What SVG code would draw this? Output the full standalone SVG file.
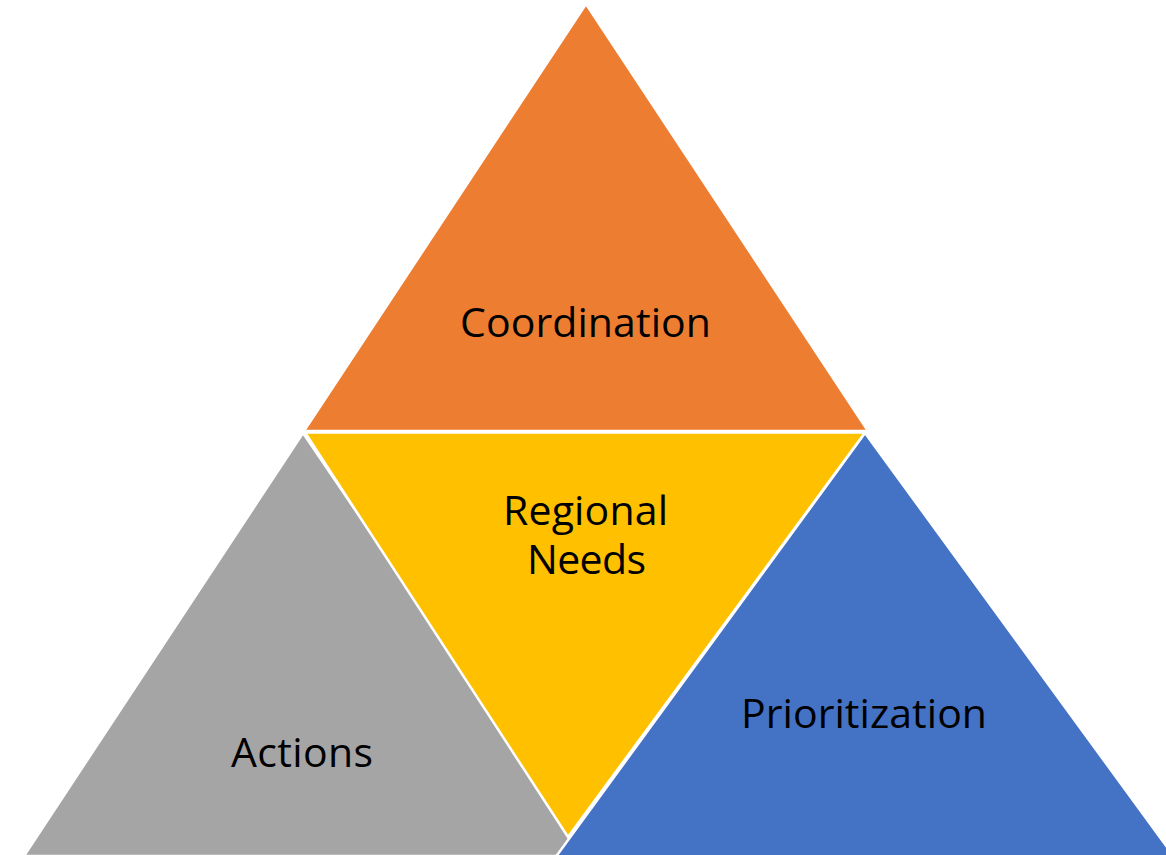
<svg xmlns="http://www.w3.org/2000/svg" width="1166" height="855" viewBox="0 0 1166 855">
<style>
.shape{stroke:#FFFFFF;stroke-width:2.5;stroke-linejoin:miter}
.lbl{font-family:"Open Sans","Liberation Sans",sans-serif;font-size:41px;fill:#000000;text-anchor:middle}
</style>
<rect x="0" y="0" width="1166" height="855" fill="#FFFFFF"/>
<g id="actions">
<polygon class="shape" points="303,433 24,856 590,856" fill="#A5A5A5"/>
<text class="lbl" x="302" y="767" textLength="142">Actions</text>
</g>
<g id="prioritization">
<polygon class="shape" points="865,433 555,858 1175,858" fill="#4472C4"/>
<text class="lbl" x="864" y="728" textLength="246">Prioritization</text>
</g>
<g id="coordination">
<polygon class="shape" points="586,4 304,431 868,431" fill="#ED7D31"/>
<text class="lbl" x="585.5" y="337" textLength="251">Coordination</text>
</g>
<g id="regional-needs">
<polygon class="shape" points="305,432.5 865,432.5 568,837" fill="#FFC000"/>
<text class="lbl" x="585.5" y="525" textLength="165">Regional</text>
<text class="lbl" x="586.5" y="574" textLength="119">Needs</text>
</g>
<g id="connectors"></g>
</svg>
